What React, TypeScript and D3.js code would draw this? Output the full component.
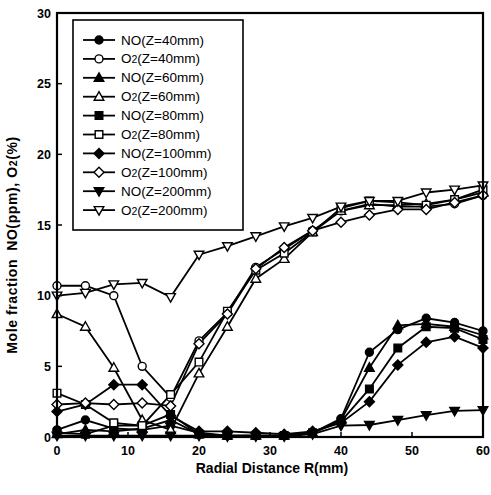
import React from "react";
import * as d3 from "d3";

const radius = [0, 4, 8, 12, 16, 20, 24, 28, 32, 36, 40, 44, 48, 52, 56, 60];

const no40 = [0.5, 1.2, 0.6, 0.5, 0.8, 0.3, 0.1, 0.1, 0.1, 0.3, 1.3, 6.0, 7.6, 8.4, 8.1, 7.5];
const o240 = [10.7, 10.7, 10.0, 5.0, 2.8, 6.8, 8.8, 12.0, 13.3, 14.6, 16.0, 16.5, 16.3, 16.3, 16.5, 17.1];
const no60 = [0.2, 0.5, 0.4, 0.6, 1.2, 0.2, 0.1, 0.1, 0.1, 0.3, 1.2, 4.9, 7.9, 8.0, 7.8, 7.2];
const o260 = [8.7, 7.8, 4.9, 1.2, 0.5, 4.5, 7.8, 11.2, 12.6, 14.5, 16.0, 16.4, 16.4, 16.5, 16.8, 17.3];
const no80 = [0.3, 0.2, 0.8, 0.8, 1.6, 0.2, 0.1, 0.1, 0.1, 0.3, 1.1, 3.4, 6.3, 7.8, 7.7, 6.9];
const o280 = [3.1, 2.3, 1.0, 0.8, 3.0, 5.3, 8.9, 11.8, 13.0, 14.5, 16.2, 16.7, 16.6, 16.4, 16.8, 17.5];
const no100 = [1.8, 2.3, 3.7, 3.7, 1.5, 0.4, 0.4, 0.3, 0.2, 0.4, 1.0, 2.5, 5.1, 6.7, 7.1, 6.3];
const o2100 = [2.3, 2.4, 2.3, 2.4, 2.2, 6.6, 8.7, 11.9, 13.4, 14.6, 15.2, 15.7, 16.1, 16.1, 16.6, 17.1];
const no200 = [0.1, 0.1, 0.1, 0.1, 0.1, 0.1, 0.05, 0.05, 0.05, 0.2, 0.8, 0.85, 1.2, 1.55, 1.85, 1.9];
const o2200 = [10.0, 10.2, 10.8, 10.9, 9.9, 12.9, 13.5, 14.2, 14.9, 15.5, 16.3, 16.7, 16.7, 17.3, 17.5, 17.8];

const xTicks = [0, 10, 20, 30, 40, 50, 60];
const yTicks = [0, 5, 10, 15, 20, 25, 30];

type Shape = "circle" | "triangle" | "square" | "diamond" | "tridown";

const series: { name: string; sub: string; rest: string; values: number[]; shape: Shape; filled: boolean }[] = [
  { name: "NO", sub: "", rest: "(Z=40mm)", values: no40, shape: "circle", filled: true },
  { name: "O", sub: "2", rest: "(Z=40mm)", values: o240, shape: "circle", filled: false },
  { name: "NO", sub: "", rest: "(Z=60mm)", values: no60, shape: "triangle", filled: true },
  { name: "O", sub: "2", rest: "(Z=60mm)", values: o260, shape: "triangle", filled: false },
  { name: "NO", sub: "", rest: "(Z=80mm)", values: no80, shape: "square", filled: true },
  { name: "O", sub: "2", rest: "(Z=80mm)", values: o280, shape: "square", filled: false },
  { name: "NO", sub: "", rest: "(Z=100mm)", values: no100, shape: "diamond", filled: true },
  { name: "O", sub: "2", rest: "(Z=100mm)", values: o2100, shape: "diamond", filled: false },
  { name: "NO", sub: "", rest: "(Z=200mm)", values: no200, shape: "tridown", filled: true },
  { name: "O", sub: "2", rest: "(Z=200mm)", values: o2200, shape: "tridown", filled: false },
];

const L = 57, R = 483, T = 13, B = 437;
const x = d3.scaleLinear().domain([0, 60]).range([L, R]);
const y = d3.scaleLinear().domain([0, 30]).range([B, T]);

function markerPath(shape: Shape): string {
  switch (shape) {
    case "circle":
      return d3.symbol(d3.symbolCircle, 50)()!;
    case "square":
      return "M-3.8,-3.8L3.8,-3.8L3.8,3.8L-3.8,3.8Z";
    case "diamond":
      return "M0,-5L5,0L0,5L-5,0Z";
    case "triangle":
      return "M0,-5L4.8,3.5L-4.8,3.5Z";
    case "tridown":
      return "M0,5L4.8,-3.5L-4.8,-3.5Z";
  }
}

function Marker({ cx, cy, shape, filled }: { cx: number; cy: number; shape: Shape; filled: boolean }) {
  return (
    <path
      d={markerPath(shape)}
      transform={`translate(${cx},${cy})`}
      fill={filled ? "#000" : "#fff"}
      stroke="#000"
      strokeWidth={1.4}
    />
  );
}

export default function App() {
  const line = d3
    .line<number>()
    .x((_, i) => x(radius[i]))
    .y((d) => y(d));

  const font = "'Liberation Sans', Arial, sans-serif";

  const legX = 73, legY = 20, legW = 170, legH = 210;
  const rowY = (i: number) => legY + 20 + i * 18.9;

  return (
    <svg width={491} height={495} style={{ position: "absolute", left: 0, top: 0, background: "#fff" }} fontFamily={font}>
      <rect x={0} y={0} width={491} height={495} fill="#fff" />
      {series.map((s, si) => (
        <path key={"l" + si} d={line(s.values)!} fill="none" stroke="#000" strokeWidth={1.8} />
      ))}
      {series.map((s, si) =>
        s.values.map((v, i) => (
          <Marker key={"m" + si + "-" + i} cx={x(radius[i])} cy={y(v)} shape={s.shape} filled={s.filled} />
        ))
      )}
      <rect x={L} y={T} width={R - L} height={B - T} fill="none" stroke="#000" strokeWidth={2.2} />
      {xTicks.map((t) => (
        <g key={"xt" + t}>
          <line x1={x(t)} x2={x(t)} y1={B} y2={B - 5} stroke="#000" strokeWidth={1.5} />
          <text x={x(t)} y={B + 18} textAnchor="middle" fontSize={12.5} fontWeight="bold">
            {t}
          </text>
        </g>
      ))}
      {yTicks.map((t) => (
        <g key={"yt" + t}>
          <line x1={L} x2={L + 5} y1={y(t)} y2={y(t)} stroke="#000" strokeWidth={1.5} />
          <text x={L - 6} y={y(t) + 4.5} textAnchor="end" fontSize={12.5} fontWeight="bold">
            {t}
          </text>
        </g>
      ))}
      <text x={(L + R) / 2 + 2} y={473} textAnchor="middle" fontSize={14} fontWeight="bold">
        Radial Distance R(mm)
      </text>
      <text
        transform={`translate(17,${(T + B) / 2 + 20}) rotate(-90)`}
        textAnchor="middle"
        fontSize={14}
        fontWeight="bold"
        letterSpacing={0.6}
      >
        Mole fraction<tspan dx={8}>NO(ppm), O</tspan>
        <tspan fontSize={10.5}>2</tspan>(%)
      </text>
      <rect x={legX} y={legY} width={legW} height={legH} fill="#fff" stroke="#000" strokeWidth={1.6} />
      {series.map((s, i) => (
        <g key={"lg" + i}>
          <line x1={83} x2={115} y1={rowY(i)} y2={rowY(i)} stroke="#000" strokeWidth={1.8} />
          <Marker cx={99} cy={rowY(i)} shape={s.shape} filled={s.filled} />
          <text x={121} y={rowY(i) + 4.5} fontSize={13.5}>
            {s.name}
            {s.sub && <tspan fontSize={10.5}>{s.sub}</tspan>}
            {s.rest}
          </text>
        </g>
      ))}
    </svg>
  );
}
